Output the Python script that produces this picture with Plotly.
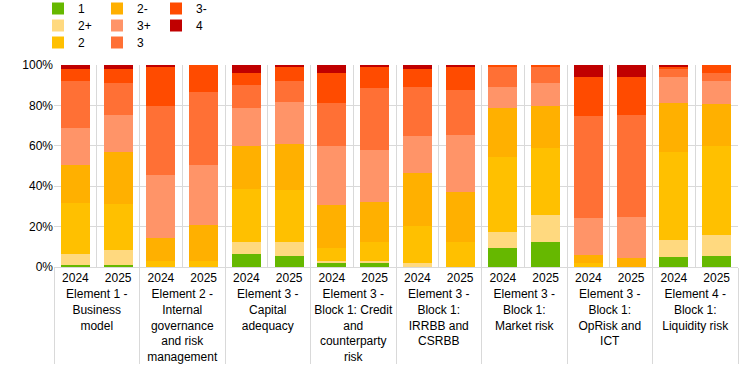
import plotly.graph_objects as go

groups = [
    "Element 1 -<br>Business<br>model",
    "Element 2 -<br>Internal<br>governance<br>and risk<br>management",
    "Element 3 -<br>Capital<br>adequacy",
    "Element 3 -<br>Block 1: Credit<br>and<br>counterparty<br>risk",
    "Element 3 -<br>Block 1:<br>IRRBB and<br>CSRBB",
    "Element 3 -<br>Block 1:<br>Market risk",
    "Element 3 -<br>Block 1:<br>OpRisk and<br>ICT",
    "Element 4 -<br>Block 1:<br>Liquidity risk",
]
years = ["2024", "2025"]

# Share of scores (%) per group/year: order g1-2024, g1-2025, g2-2024, ...
score_1 =  [1.0, 1.0, 0, 0, 6.4, 5.4, 2.0, 2.0, 0, 0, 9.4, 12.4, 0, 0, 5.0, 5.4]
score_2p = [5.4, 7.4, 0, 0, 6.0, 7.0, 1.0, 1.0, 2.0, 0, 7.9, 13.3, 0, 0, 8.4, 10.4]
score_2 =  [25.4, 22.8, 3.0, 3.0, 26.4, 25.7, 6.4, 9.4, 18.3, 12.4, 37.2, 33.2, 2.0, 0, 43.5, 44.1]
score_2m = [18.9, 25.7, 11.4, 17.8, 21.1, 22.8, 21.5, 19.8, 26.4, 24.7, 24.2, 20.8, 3.9, 4.5, 24.3, 20.8]
score_3p = [18.1, 18.3, 31.1, 29.7, 18.8, 20.8, 29.0, 25.7, 18.2, 28.2, 10.4, 11.4, 18.4, 20.3, 12.9, 11.4]
score_3 =  [23.3, 15.9, 34.2, 36.1, 11.4, 10.4, 21.3, 30.7, 24.2, 22.3, 9.9, 7.9, 50.5, 50.4, 3.9, 3.9]
score_3m = [5.9, 6.9, 19.3, 13.4, 5.9, 6.9, 14.8, 10.4, 8.9, 11.4, 1.0, 1.0, 19.3, 18.9, 1.0, 4.0]
score_4 =  [2.0, 2.0, 1.0, 0, 4.0, 1.0, 4.0, 1.0, 2.0, 1.0, 0, 0, 5.9, 5.9, 1.0, 0]

# (name, values, colour, legend row, position in row)
series = [
    ("1", score_1, "#66B800", "legend", 1),
    ("2+", score_2p, "#FFD97F", "legend2", 1),
    ("2", score_2, "#FFC000", "legend3", 1),
    ("2-", score_2m, "#FFB000", "legend", 2),
    ("3+", score_3p, "#FF9468", "legend2", 2),
    ("3", score_3, "#FF7035", "legend3", 2),
    ("3-", score_3m, "#FF4B00", "legend", 3),
    ("4", score_4, "#C00000", "legend2", 3),
]

xg = [g for g in groups for _ in years]
xy = [y for _ in groups for y in years]

fig = go.Figure()
for name, vals, color, leg, rank in series:
    fig.add_trace(go.Bar(
        x=[xg, xy], y=vals, name=name, marker_color=color,
        marker_line_width=0, legend=leg, legendrank=rank,
    ))

PLOT_TOP, PLOT_BOTTOM, PLOT_LEFT, PLOT_W = 65, 267, 54, 684

def leg(top_px):
    return dict(
        orientation="h", x=(38 - PLOT_LEFT) / PLOT_W, xref="paper",
        y=(PLOT_BOTTOM - top_px) / (PLOT_BOTTOM - PLOT_TOP), yref="paper",
        xanchor="left", yanchor="top",
        entrywidth=14, entrywidthmode="pixels",
        font=dict(size=12, family="Liberation Sans, Arial, sans-serif"),
        itemwidth=30, bgcolor="rgba(0,0,0,0)", traceorder="normal",
    )

fig.update_layout(
    barmode="stack",
    bargap=0.32,
    width=744, height=373,
    margin=dict(l=54, r=6, t=65, b=106, autoexpand=False),
    paper_bgcolor="white", plot_bgcolor="white",
    font=dict(family="Liberation Sans, Arial, sans-serif", size=12, color="#000000"),
    showlegend=True,
    legend=leg(-6),
    legend2=leg(11),
    legend3=leg(28),
    xaxis=dict(
        type="multicategory",
        showgrid=True, gridcolor="#D9D9D9", gridwidth=1,
        showline=True, linecolor="#D9D9D9",
        ticks="",
        showdividers=True, dividercolor="#D9D9D9", dividerwidth=1,
        tickfont=dict(size=12), automargin=False,
    ),
    yaxis=dict(
        range=[0, 100], dtick=20, ticksuffix="%",
        showgrid=True, gridcolor="#D9D9D9", gridwidth=1,
        zeroline=False, showline=False, ticks="",
        tickfont=dict(size=12), automargin=False,
    ),
)

fig.write_html(
    "out.html",
    config={"displayModeBar": False},
    post_script="document.body.style.margin='0';",
)
